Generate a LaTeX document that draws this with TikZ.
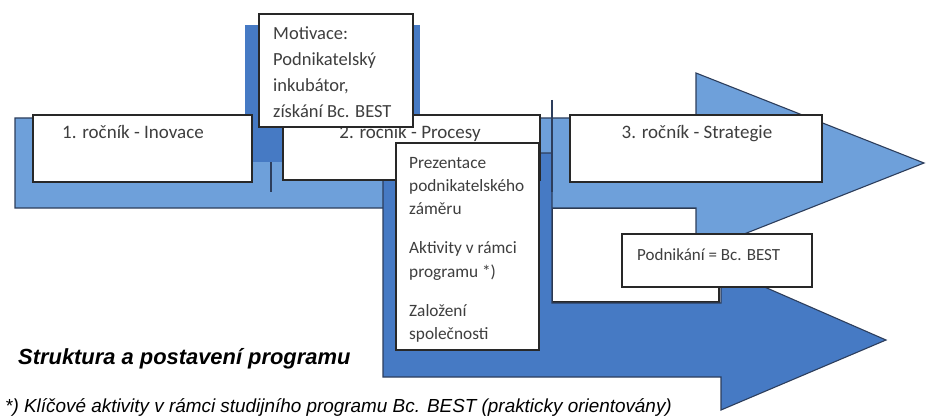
\documentclass[tikz,border=0pt]{standalone}
\usepackage{fontspec}
\setmainfont{Carlito}
\newfontfamily\arialfont{Liberation Sans}
\definecolor{lightarrow}{RGB}{110,160,218}
\definecolor{darkarrow}{RGB}{70,122,196}
\definecolor{arrowedge}{RGB}{45,62,92}
\definecolor{boxedge}{RGB}{40,40,40}
\definecolor{textgray}{RGB}{62,62,62}
\begin{document}
\begin{tikzpicture}[x=1pt,y=-1pt,
  whitebox/.style={draw=boxedge, fill=white, line width=1.4pt, rectangle, inner sep=0pt, outer sep=0pt, anchor=north west},
  lbl/.style={text=textgray, inner sep=0pt, font={\fontsize{19}{23}\selectfont}},
  lighta/.style={fill=lightarrow, draw=arrowedge, line width=1.1pt, line join=miter},
  darka/.style={fill=darkarrow, draw=arrowedge, line width=1.1pt, line join=miter},
  thinline/.style={draw=arrowedge, line width=1.6pt}]
\useasboundingbox (0,0) rectangle (928,417);
% empty white panel behind the upper arrow head
\node[whitebox, minimum width=167pt, minimum height=94pt] (panel) at (552,208) {};
% upper light arrow
\draw[lighta] (15,118) -- (696,118) -- (696,73) -- (924,163) -- (696,253) -- (696,208) -- (15,208) -- cycle;
% dark shape behind Motivace
\fill[darkarrow] (245,25) rectangle (420,162);
\coordinate (m1) at (271,162);
\coordinate (m2) at (271,192);
\draw[thinline] (m1) -- (m2);
% lower dark arrow with block behind the Prezentace box
\draw[darka] (383,153) -- (552,153) -- (552,303) -- (721,303) -- (721,268) -- (886,340) -- (721,410) -- (721,377) -- (383,377) -- cycle;
\coordinate (v1) at (552,100);
\coordinate (v2) at (552,192);
\draw[thinline] (v1) -- (v2);
% year boxes
\node[whitebox, minimum width=219pt, minimum height=67pt] (b1) at (33,115) {};
\node[lbl, anchor=base] (t1) at (133,139) {1. ročník - Inovace};
\node[whitebox, minimum width=257pt, minimum height=65pt] (b2) at (283,115) {};
\node[lbl, anchor=base] (t2) at (410,138) {2. ročník - Procesy};
\node[whitebox, minimum width=252pt, minimum height=67pt] (b3) at (570,115) {};
\node[lbl, anchor=base] (t3) at (697,139) {3. ročník - Strategie};
% Motivace box
\node[whitebox, minimum width=154pt, minimum height=113pt] (bm) at (259,14) {};
\node[text=textgray, inner sep=0pt, anchor=north west, align=left,
  font={\fontsize{18.5}{26}\selectfont}] (tm) at (273,25)
  {\rule{0pt}{14pt}Motivace:\\Podnikatelský\\inkubátor,\\získání Bc. BEST};
% Prezentace box
\node[whitebox, minimum width=143pt, minimum height=207pt] (bp) at (396,143) {};
\node[text=textgray, inner sep=0pt, anchor=north west, align=left,
  font={\fontsize{17.3}{23.3}\selectfont}] (tp) at (409,155)
  {\rule{0pt}{13pt}Prezentace\\podnikatelského\\záměru\\[15.7pt]Aktivity v rámci\\programu *)\\[15.7pt]Založení\\společnosti};
% Podnikani box
\node[whitebox, minimum width=190pt, minimum height=53pt] (bb) at (622,234) {};
\node[text=textgray, inner sep=0pt, anchor=base west, font={\fontsize{17}{20}\selectfont}] (tb) at (637,260) {Podnikání = Bc. BEST};
% captions
\node[inner sep=0pt, anchor=base west, font={\arialfont\bfseries\itshape\fontsize{21.9}{26}\selectfont}] (title) at (18,364) {Struktura a postavení programu};
\node[inner sep=0pt, anchor=base west, font={\arialfont\itshape\fontsize{18.9}{22}\selectfont}] (note) at (5,412) {*) Klíčové aktivity v rámci studijního programu Bc. BEST (prakticky orientovány)};
\end{tikzpicture}
\end{document}
